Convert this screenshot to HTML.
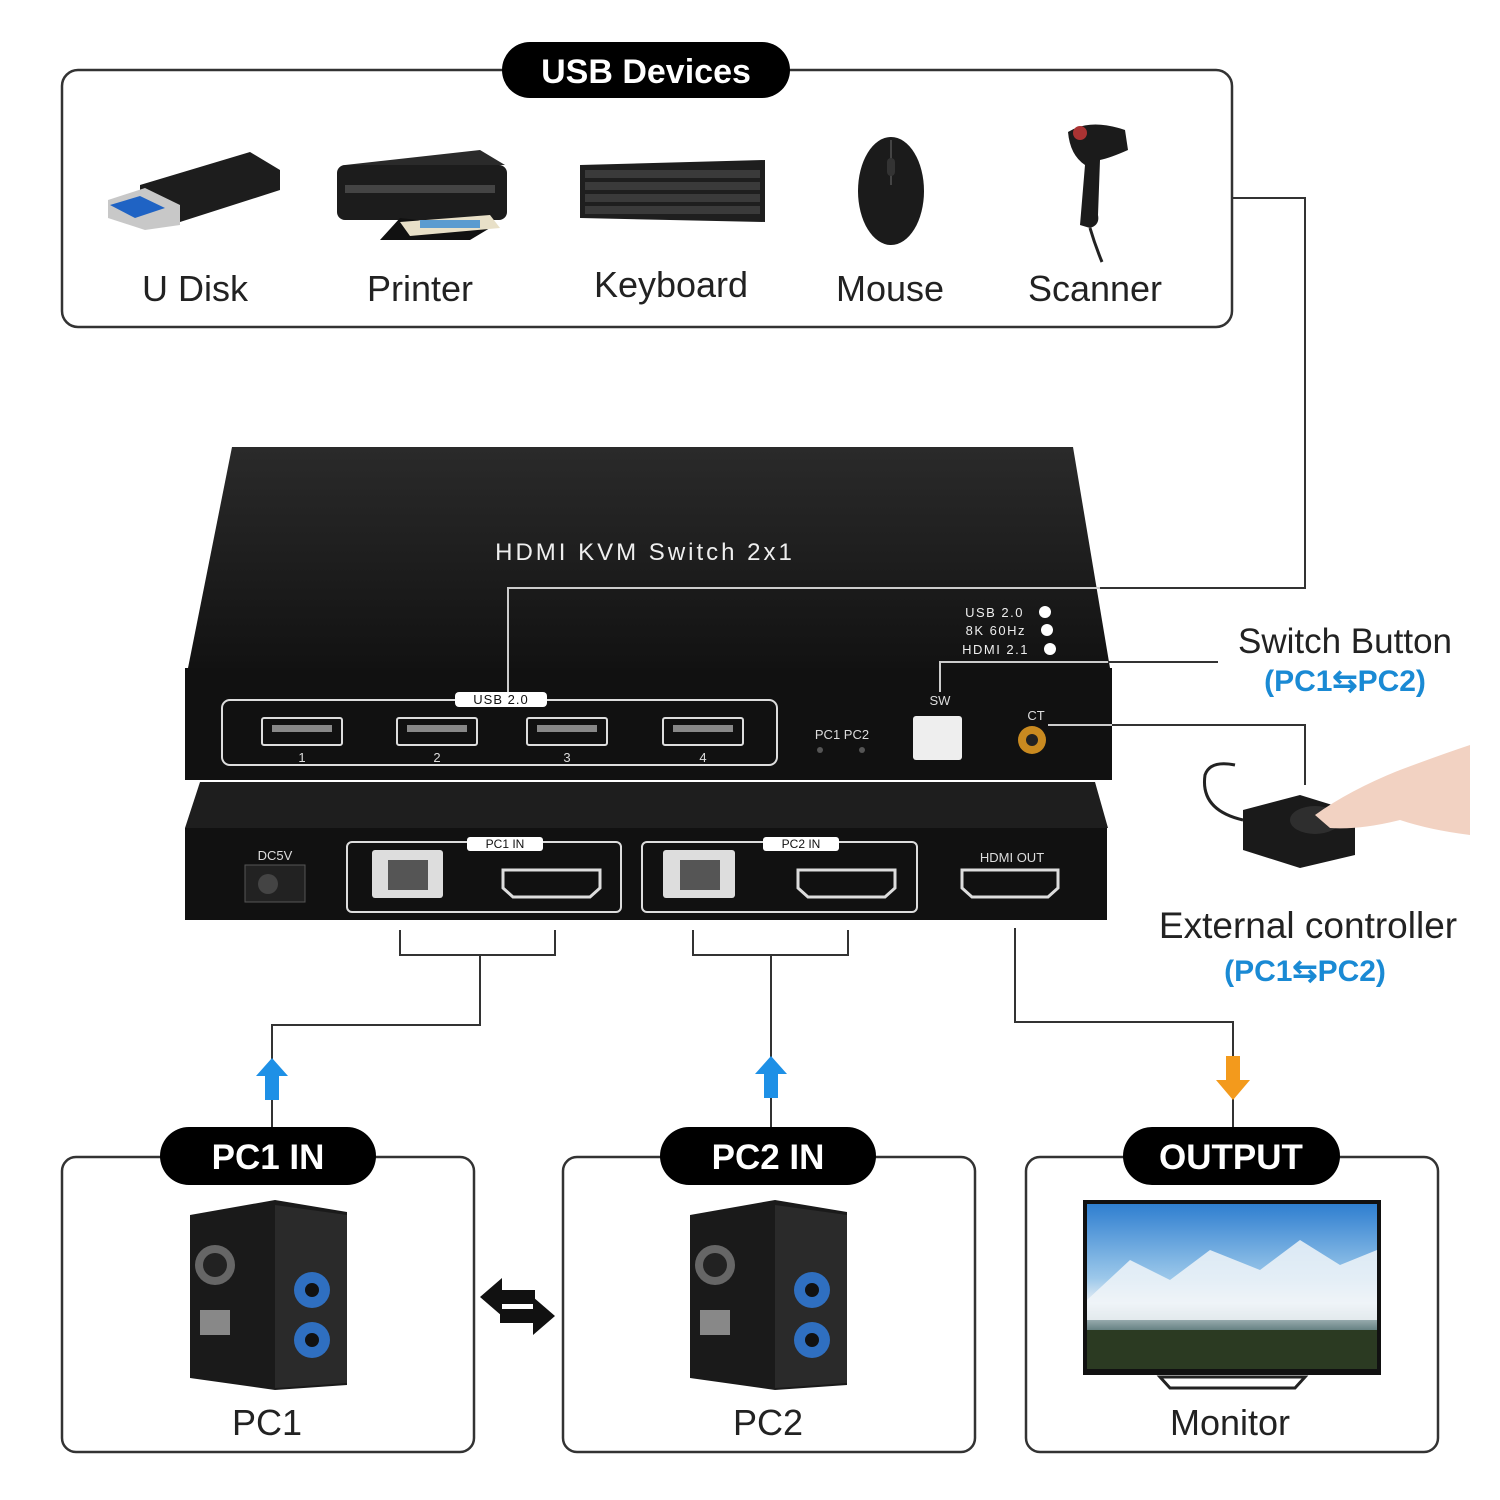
<!DOCTYPE html>
<html><head><meta charset="utf-8"><style>
html,body{margin:0;padding:0;background:#fff;}
svg{display:block;}
text{font-family:"Liberation Sans",sans-serif;}
</style></head><body>
<svg width="1500" height="1500" viewBox="0 0 1500 1500" xmlns="http://www.w3.org/2000/svg">
<defs>
<linearGradient id="topf" x1="0" y1="0" x2="0" y2="1"><stop offset="0" stop-color="#2a2a2a"/><stop offset="1" stop-color="#121212"/></linearGradient>
<linearGradient id="sky" x1="0" y1="0" x2="0" y2="1"><stop offset="0" stop-color="#2f7fd0"/><stop offset="0.45" stop-color="#9cc8ea"/><stop offset="0.6" stop-color="#e8eef4"/><stop offset="0.8" stop-color="#4a6a6a"/><stop offset="1" stop-color="#2a3a2a"/></linearGradient>
</defs>
<!-- top box -->
<rect x="62" y="70" width="1170" height="257" rx="16" fill="none" stroke="#333" stroke-width="2.5"/>
<rect x="502" y="42" width="288" height="56" rx="28" fill="#000"/>
<text x="646" y="83" font-size="34" font-weight="bold" fill="#fff" text-anchor="middle">USB Devices</text>
<!-- USB disk -->
<polygon points="140,185 250,152 280,170 280,190 180,222 140,210" fill="#1d1d1d"/>
<polygon points="108,200 145,188 180,205 180,225 145,230 108,218" fill="#c8c8c8"/>
<polygon points="110,205 140,196 165,208 135,218" fill="#1f63c4"/>
<!-- printer -->
<rect x="337" y="165" width="170" height="55" rx="8" fill="#1c1c1c"/>
<polygon points="345,165 480,150 505,165" fill="#2a2a2a"/>
<rect x="345" y="185" width="150" height="8" fill="#444"/>
<polygon points="380,240 470,240 490,228 400,218" fill="#111"/>
<polygon points="400,222 490,215 500,228 410,236" fill="#e8e0c8"/>
<rect x="420" y="220" width="60" height="8" fill="#5a9bd0"/>
<!-- keyboard -->
<polygon points="580,165 765,160 765,222 580,218" fill="#1e1e1e"/>
<g fill="#3a3a3a">
<rect x="585" y="170" width="175" height="8"/><rect x="585" y="182" width="175" height="8"/><rect x="585" y="194" width="175" height="8"/><rect x="585" y="206" width="175" height="8"/></g>
<!-- mouse -->
<ellipse cx="891" cy="191" rx="33" ry="54" fill="#1b1b1b"/>
<line x1="891" y1="140" x2="891" y2="185" stroke="#444" stroke-width="2"/>
<rect x="887" y="158" width="8" height="18" rx="4" fill="#333"/>
<!-- scanner -->
<path d="M1068,132 Q1090,118 1125,130 L1128,150 Q1110,158 1100,160 L1098,215 Q1100,225 1090,228 L1080,225 L1085,165 Q1070,155 1068,132Z" fill="#1b1b1b"/>
<circle cx="1080" cy="133" r="7" fill="#a33"/>
<path d="M1090,228 Q1095,245 1102,262" stroke="#222" stroke-width="3" fill="none"/>
<g font-size="36" fill="#222" text-anchor="middle">
<text x="195" y="301">U Disk</text><text x="420" y="301">Printer</text><text x="671" y="297">Keyboard</text><text x="890" y="301">Mouse</text><text x="1095" y="301">Scanner</text></g>
<!-- device top unit -->
<polygon points="232,447 1073,447 1110,668 188,668" fill="url(#topf)"/>
<rect x="185" y="668" width="927" height="112" fill="#111"/>
<text x="645" y="560" font-size="24" fill="#eee" text-anchor="middle" letter-spacing="3">HDMI KVM Switch 2x1</text>
<g font-size="13" fill="#eee" text-anchor="end" letter-spacing="1.5">
<text x="1024" y="617">USB 2.0</text><text x="1026" y="635">8K 60Hz</text><text x="1029" y="654">HDMI 2.1</text></g>
<circle cx="1045" cy="612" r="6" fill="#fff"/><circle cx="1047" cy="630" r="6" fill="#fff"/><circle cx="1050" cy="649" r="6" fill="#fff"/>
<rect x="222" y="700" width="555" height="65" rx="8" fill="none" stroke="#ddd" stroke-width="2"/>
<rect x="455" y="692" width="92" height="15" rx="4" fill="#fff"/>
<text x="501" y="704" font-size="13" fill="#111" text-anchor="middle" letter-spacing="1">USB 2.0</text>
<g fill="none" stroke="#ddd" stroke-width="2">
<rect x="262" y="718" width="80" height="27" rx="2"/><rect x="397" y="718" width="80" height="27" rx="2"/><rect x="527" y="718" width="80" height="27" rx="2"/><rect x="663" y="718" width="80" height="27" rx="2"/></g>
<g fill="#888"><rect x="272" y="725" width="60" height="7"/><rect x="407" y="725" width="60" height="7"/><rect x="537" y="725" width="60" height="7"/><rect x="673" y="725" width="60" height="7"/></g>
<g font-size="13" fill="#ddd" text-anchor="middle"><text x="302" y="762">1</text><text x="437" y="762">2</text><text x="567" y="762">3</text><text x="703" y="762">4</text>
<text x="842" y="739">PC1 PC2</text><text x="940" y="705">SW</text><text x="1036" y="720">CT</text></g>
<circle cx="820" cy="750" r="3" fill="#555"/><circle cx="862" cy="750" r="3" fill="#555"/>
<rect x="913" y="716" width="49" height="44" rx="3" fill="#eee"/>
<circle cx="1032" cy="740" r="14" fill="#c98a20"/><circle cx="1032" cy="740" r="6" fill="#222"/>
<!-- bottom unit -->
<polygon points="200,782 1095,782 1108,828 185,828" fill="#1e1e1e"/>
<rect x="185" y="828" width="922" height="92" fill="#111"/>
<text x="275" y="860" font-size="13" fill="#ddd" text-anchor="middle">DC5V</text>
<rect x="245" y="865" width="60" height="37" fill="#222" stroke="#555"/>
<circle cx="268" cy="884" r="10" fill="#444"/>
<g fill="none" stroke="#ddd" stroke-width="2">
<rect x="347" y="842" width="274" height="70" rx="5"/><rect x="642" y="842" width="275" height="70" rx="5"/></g>
<rect x="467" y="837" width="76" height="14" rx="3" fill="#fff"/><rect x="763" y="837" width="76" height="14" rx="3" fill="#fff"/>
<g font-size="12" fill="#111" text-anchor="middle"><text x="505" y="848">PC1 IN</text><text x="801" y="848">PC2 IN</text></g>
<text x="1012" y="862" font-size="13" fill="#ddd" text-anchor="middle">HDMI OUT</text>
<g fill="#ddd"><rect x="372" y="850" width="71" height="48" rx="3"/><rect x="663" y="850" width="72" height="48" rx="3"/></g>
<g fill="#555"><rect x="388" y="860" width="40" height="30"/><rect x="680" y="860" width="40" height="30"/></g>
<g fill="#111" stroke="#ddd" stroke-width="3">
<polygon points="503,870 600,870 600,888 590,897 513,897 503,888"/>
<polygon points="798,870 895,870 895,888 885,897 808,897 798,888"/>
<polygon points="962,870 1058,870 1058,888 1048,897 972,897 962,888"/></g>
<!-- connectors (over device) -->
<g fill="none" stroke="#333" stroke-width="2">
<polyline points="1232,198 1305,198 1305,588 508,588 508,692" stroke="#ccc"/>
<polyline points="1232,198 1305,198 1305,588 1100,588"/>
<polyline points="940,692 940,662 1218,662" stroke="#ccc"/>
<polyline points="1108,662 1218,662"/>
<polyline points="1048,725 1305,725 1305,785" stroke="#ccc"/>
<polyline points="1112,725 1305,725 1305,785"/>
<polyline points="400,930 400,955 555,955 555,930"/>
<polyline points="480,955 480,1025 272,1025 272,1070"/>
<polyline points="272,1098 272,1128"/>
<polyline points="693,930 693,955 848,955 848,930"/>
<polyline points="771,955 771,1070"/>
<polyline points="771,1098 771,1128"/>
<polyline points="1015,928 1015,1022 1233,1022 1233,1060"/>
<polyline points="1233,1095 1233,1128"/>
</g>
<!-- arrows -->
<polygon points="272,1058 288,1076 279,1076 279,1100 265,1100 265,1076 256,1076" fill="#1e90e6"/>
<polygon points="771,1056 787,1074 778,1074 778,1098 764,1098 764,1074 755,1074" fill="#1e90e6"/>
<polygon points="1226,1056 1240,1056 1240,1080 1250,1080 1233,1100 1216,1080 1226,1080" fill="#f39a1c"/>
<!-- switch button text -->
<text x="1345" y="653" font-size="35" fill="#222" text-anchor="middle">Switch Button</text>
<text x="1345" y="691" font-size="30" font-weight="bold" fill="#1a8ad4" text-anchor="middle">(PC1⇆PC2)</text>
<!-- external controller -->
<path d="M1243,820 Q1200,810 1205,775 Q1210,760 1235,765" stroke="#222" stroke-width="3" fill="none"/>
<polygon points="1243,810 1300,795 1355,812 1355,855 1300,868 1243,850" fill="#1a1a1a"/>
<ellipse cx="1315" cy="820" rx="25" ry="14" fill="#2e2e2e"/>
<path d="M1315,815 Q1350,790 1400,770 Q1440,755 1470,745 L1470,835 Q1430,830 1400,820 Q1360,830 1330,828Z" fill="#f2d2c2"/>
<text x="1308" y="938" font-size="37" fill="#222" text-anchor="middle">External controller</text>
<text x="1305" y="981" font-size="30" font-weight="bold" fill="#1a8ad4" text-anchor="middle">(PC1⇆PC2)</text>
<!-- bottom boxes -->
<g fill="none" stroke="#333" stroke-width="2.5">
<rect x="62" y="1157" width="412" height="295" rx="14"/><rect x="563" y="1157" width="412" height="295" rx="14"/><rect x="1026" y="1157" width="412" height="295" rx="14"/></g>
<g fill="#000"><rect x="160" y="1127" width="216" height="58" rx="29"/><rect x="660" y="1127" width="216" height="58" rx="29"/><rect x="1123" y="1127" width="217" height="58" rx="29"/></g>
<g font-size="35" font-weight="bold" fill="#fff" text-anchor="middle"><text x="268" y="1169">PC1 IN</text><text x="768" y="1169">PC2 IN</text><text x="1231" y="1169">OUTPUT</text></g>
<!-- PCs -->
<g id="pc">
<polygon points="190,1215 275,1200 347,1212 347,1385 275,1390 190,1378" fill="#1a1a1a"/>
<polygon points="275,1205 347,1215 347,1383 275,1388" fill="#2a2a2a"/>
<circle cx="215" cy="1265" r="20" fill="#666"/><circle cx="215" cy="1265" r="12" fill="#222"/>
<rect x="200" y="1310" width="30" height="25" fill="#888"/>
<circle cx="312" cy="1290" r="18" fill="#2f6fc0"/><circle cx="312" cy="1340" r="18" fill="#2f6fc0"/>
<circle cx="312" cy="1290" r="7" fill="#111"/><circle cx="312" cy="1340" r="7" fill="#111"/>
</g>
<use href="#pc" x="500"/>
<g font-size="36" fill="#222" text-anchor="middle"><text x="267" y="1435">PC1</text><text x="768" y="1435">PC2</text><text x="1230" y="1435">Monitor</text></g>
<!-- swap arrow -->
<polygon points="480,1297 502,1278 502,1290 535,1290 535,1304 502,1304 502,1316" fill="#111"/>
<polygon points="555,1316 533,1297 533,1309 500,1309 500,1323 533,1323 533,1335" fill="#111"/>
<!-- monitor -->
<rect x="1083" y="1200" width="298" height="175" fill="#111"/>
<rect x="1087" y="1204" width="290" height="165" fill="url(#sky)"/>
<polygon points="1087,1300 1130,1260 1170,1280 1210,1250 1260,1270 1300,1240 1340,1265 1377,1250 1377,1320 1087,1320" fill="#f0f4f8" opacity="0.85"/>
<rect x="1087" y="1330" width="290" height="39" fill="#2b3a22"/>
<polygon points="1160,1377 1305,1377 1295,1388 1170,1388" fill="none" stroke="#222" stroke-width="3"/>
</svg>
</body></html>
